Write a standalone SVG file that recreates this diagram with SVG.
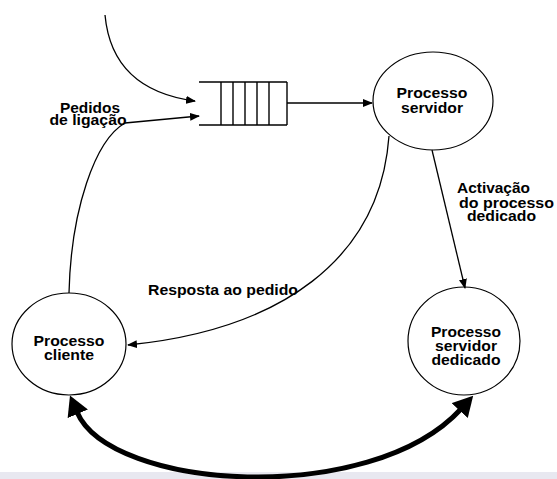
<svg xmlns="http://www.w3.org/2000/svg" width="557" height="479" viewBox="0 0 557 479">
  <style>
    .node { fill: #ffffff; stroke: #000000; stroke-width: 1.2; }
    .lbl { font-family: "Liberation Sans", Arial, sans-serif; font-weight: bold; font-size: 15px; fill: #000000; }
    .mid { text-anchor: middle; }
    .thin { fill: none; stroke: #000000; stroke-width: 1.3; }
    .thick { fill: none; stroke: #000000; stroke-width: 5; }
    .queue line { stroke: #000000; stroke-width: 1.4; }
  </style>
  <defs>
    <marker id="arr" markerUnits="userSpaceOnUse" viewBox="0 0 10 8" refX="9" refY="4" markerWidth="10" markerHeight="8" orient="auto">
      <path d="M0,0 L10,4 L0,8 z" fill="#000000"/>
    </marker>
    <marker id="big" markerUnits="userSpaceOnUse" viewBox="0 0 20 22" refX="2" refY="11" markerWidth="20" markerHeight="22" orient="auto-start-reverse">
      <path d="M0,0 L20,11 L0,22 z" fill="#000000"/>
    </marker>
  </defs>

  <rect x="0" y="472" width="557" height="7" fill="#e8e8f0"/>

  <!-- request queue -->
  <g id="queue" class="queue">
    <line x1="199" y1="82" x2="287" y2="82"/>
    <line x1="199" y1="125" x2="287" y2="125"/>
    <line x1="221" y1="82" x2="221" y2="125"/>
    <line x1="233" y1="82" x2="233" y2="125"/>
    <line x1="245" y1="82" x2="245" y2="125"/>
    <line x1="257" y1="82" x2="257" y2="125"/>
    <line x1="269" y1="82" x2="269" y2="125"/>
    <line x1="287" y1="82" x2="287" y2="125"/>
  </g>

  <g id="servidor">
    <ellipse class="node" cx="433" cy="101" rx="60" ry="49"/>
    <text class="lbl mid" x="432" y="98" textLength="71" lengthAdjust="spacingAndGlyphs">Processo</text>
    <text class="lbl mid" x="432" y="113" textLength="62" lengthAdjust="spacingAndGlyphs">servidor</text>
  </g>

  <g id="cliente">
    <ellipse class="node" cx="69" cy="344" rx="57" ry="51"/>
    <text class="lbl mid" x="69" y="346" textLength="71" lengthAdjust="spacingAndGlyphs">Processo</text>
    <text class="lbl mid" x="69" y="360" textLength="50" lengthAdjust="spacingAndGlyphs">cliente</text>
  </g>

  <g id="dedicado">
    <ellipse class="node" cx="464" cy="341" rx="56" ry="54"/>
    <text class="lbl mid" x="466" y="337" textLength="70" lengthAdjust="spacingAndGlyphs">Processo</text>
    <text class="lbl mid" x="466" y="351" textLength="62" lengthAdjust="spacingAndGlyphs">servidor</text>
    <text class="lbl mid" x="466" y="365" textLength="69" lengthAdjust="spacingAndGlyphs">dedicado</text>
  </g>

  <g id="connectors">
    <path class="thin" d="M105 15 Q112 90 195 101" marker-end="url(#arr)"/>
    <path class="thin" d="M69 293 C71 210 95 140 125 123 L199 116" marker-end="url(#arr)"/>
    <line class="thin" x1="287" y1="103" x2="372" y2="103" marker-end="url(#arr)"/>
    <line class="thin" x1="432" y1="150" x2="465" y2="288" marker-end="url(#arr)"/>
    <path class="thin" d="M389 136 C380 260 280 330 128 345" marker-end="url(#arr)"/>
    <path class="thick" d="M77 412 C110 490 370 508 461 409" marker-start="url(#big)" marker-end="url(#big)"/>
  </g>

  <g id="labels">
    <text class="lbl mid" x="90" y="113" textLength="60" lengthAdjust="spacingAndGlyphs">Pedidos</text>
    <text class="lbl mid" x="88" y="125" textLength="77" lengthAdjust="spacingAndGlyphs">de ligação</text>
    <text class="lbl" x="457" y="193" textLength="73" lengthAdjust="spacingAndGlyphs">Activação</text>
    <text class="lbl" x="459" y="208" textLength="95" lengthAdjust="spacingAndGlyphs">do processo</text>
    <text class="lbl" x="467" y="221" textLength="69" lengthAdjust="spacingAndGlyphs">dedicado</text>
    <text class="lbl" x="148" y="295" textLength="150" lengthAdjust="spacingAndGlyphs">Resposta ao pedido</text>
  </g>
</svg>
